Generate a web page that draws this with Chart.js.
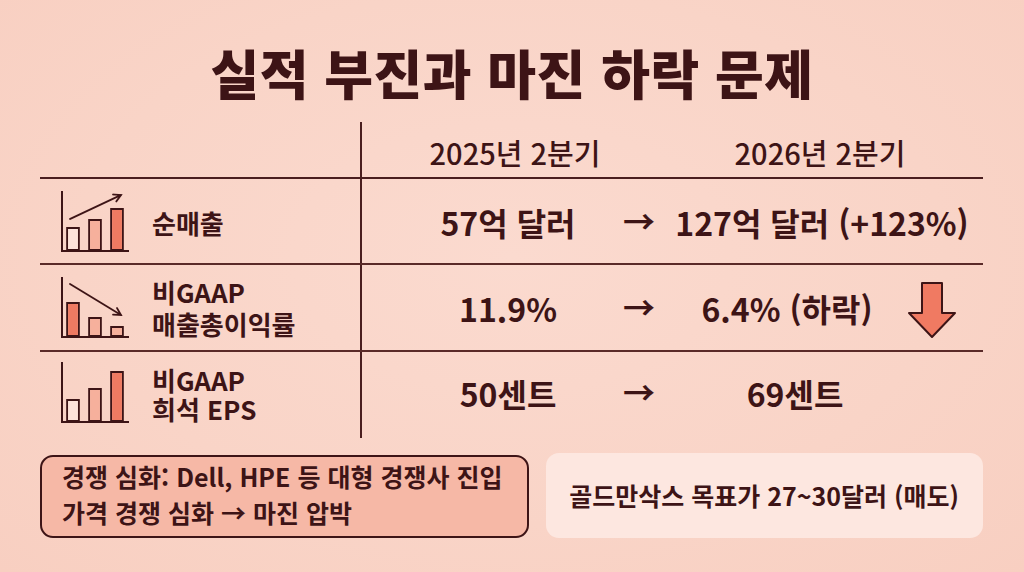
<!DOCTYPE html>
<html lang="ko">
<head>
<meta charset="utf-8">
<script src="https://cdn.jsdelivr.net/npm/chart.js@4"></script>
<style>
  html, body { margin: 0; padding: 0; }
  body {
    width: 1024px; height: 572px; overflow: hidden; position: relative;
    background: radial-gradient(ellipse at 50% 45%, #fbdacf 0%, #f9d4c7 60%, #f8cfc1 100%);
    font-family: "Noto Sans CJK KR", "Noto Sans", sans-serif;
    color: #3d1416;
  }
  .t { position: absolute; white-space: nowrap; line-height: 1; }
  .c { transform: translate(-50%, -50%); }
  .l { transform: translate(0, -50%); }
  .title { font-size: 53px; font-weight: 900; letter-spacing: 0.5px; }
  .head { font-size: 29px; font-weight: 500; }
  .val { font-size: 32px; font-weight: 700; }
  .lab { font-size: 26px; font-weight: 700; }
  .hl { position: absolute; background: #4a1e1f; }
  .box { position: absolute; box-sizing: border-box; border-radius: 13px; }
  canvas.icon { position: absolute; }
</style>
</head>
<body>
<script>
// ---------- data ----------
const chartTitle = "실적 부진과 마진 하락 문제";
const periodLabels = ["2025년 2분기", "2026년 2분기"];
const metricLabels = [["순매출"], ["비GAAP", "매출총이익률"], ["비GAAP", "희석 EPS"]];
const values2025 = ["57억 달러", "11.9%", "50센트"];
const values2026 = ["127억 달러 (+123%)", "6.4% (하락)", "69센트"];
const iconBarValues = [[24, 32, 43], [35, 20, 11], [23, 34, 51]];
const iconTrend = ["up", "down", "none"];
const noteLeft = ["경쟁 심화: Dell, HPE 등 대형 경쟁사 진입", "가격 경쟁 심화 → 마진 압박"];
const noteRight = "골드만삭스 목표가 27~30달러 (매도)";

// ---------- layout ----------
const DARK = "#3d1416";
const rowY = [222, 308, 393];
const labelY = [[223], [292, 324], [380, 409]];
const col1X = 508;
const col2X = [822, 787, 795];
const arrowX = 639;

function addText(txt, x, y, cls, align) {
  const d = document.createElement("div");
  d.className = "t " + cls + " " + (align || "c");
  d.style.left = x + "px"; d.style.top = y + "px";
  d.textContent = txt;
  document.body.appendChild(d);
  return d;
}
function addLine(x, y, w, h, color) {
  const d = document.createElement("div");
  d.className = "hl";
  d.style.left = x + "px"; d.style.top = y + "px";
  d.style.width = w + "px"; d.style.height = h + "px";
  if (color) d.style.background = color;
  document.body.appendChild(d);
}

addText(chartTitle, 512, 72, "title");
addText(periodLabels[0], 515, 152, "head");
addText(periodLabels[1], 820, 152, "head");

// table lines
addLine(360, 122, 2, 316);
addLine(40, 177, 943, 2);
addLine(40, 263, 943, 1.5, "#5a2a28");
addLine(40, 350, 943, 1.5, "#5a2a28");

// rows
metricLabels.forEach((lab, i) => {
  lab.forEach((ln, j) => addText(ln, 152, labelY[i][j], "lab", "l"));
  addText(values2025[i], col1X, rowY[i], "val");
  addText("→", arrowX, rowY[i] - 2, "val");
  addText(values2026[i], col2X[i], rowY[i], "val");
});

// down arrow marker (row 2)
const svgNS = "http://www.w3.org/2000/svg";
const sv = document.createElementNS(svgNS, "svg");
sv.setAttribute("width", "60"); sv.setAttribute("height", "70");
sv.style.position = "absolute"; sv.style.left = "903px"; sv.style.top = "276px";
const pg = document.createElementNS(svgNS, "polygon");
pg.setAttribute("points", "19,7 39,7 39,37 52,37 29,61 6,37 19,37");
pg.setAttribute("fill", "#f07a62"); pg.setAttribute("stroke", DARK);
pg.setAttribute("stroke-width", "2"); pg.setAttribute("stroke-linejoin", "round");
sv.appendChild(pg);
document.body.appendChild(sv);

// bottom boxes
const bl = document.createElement("div");
bl.className = "box";
Object.assign(bl.style, { left: "40px", top: "455px", width: "489px", height: "83px",
  background: "#f6b8a6", border: "2px solid " + DARK });
document.body.appendChild(bl);
addText(noteLeft[0], 62, 476, "lab", "l").style.fontSize = "25px";
addText(noteLeft[1], 62, 512, "lab", "l").style.fontSize = "25px";

const br = document.createElement("div");
br.className = "box";
Object.assign(br.style, { left: "546px", top: "453px", width: "437px", height: "85px",
  background: "#fde7e0" });
document.body.appendChild(br);
const rt = addText(noteRight, 764, 495, "lab");
rt.style.fontSize = "25px"; rt.style.fontWeight = "600";

// ---------- icon mini bar charts ----------
const barColors = {
  up: ["#fde3da", "#f6b09c", "#ef7a62"],
  none: ["#fde3da", "#f6b09c", "#ef7a62"],
  down: ["#ef7a62", "#f6b09c", "#f6b09c"]
};
const iconPlugin = {
  id: "iconDeco",
  afterDatasetsDraw(chart, args, opts) {
    const ctx = chart.ctx, a = chart.chartArea;
    const bars = chart.getDatasetMeta(0).data;
    ctx.save();
    ctx.strokeStyle = DARK; ctx.lineWidth = 2; ctx.lineCap = "square";
    // axes
    ctx.beginPath();
    ctx.moveTo(a.left, a.top); ctx.lineTo(a.left, a.bottom); ctx.lineTo(a.right, a.bottom);
    ctx.stroke();
    // trend arrow
    if (opts.trend !== "none") {
      let x0, y0, x1, y1;
      if (opts.trend === "up") {
        x0 = bars[0].x - 3; y0 = bars[0].y - 8;
        x1 = bars[2].x + 4; y1 = a.top + 3;
      } else {
        x0 = bars[0].x - 3; y0 = a.top + 6;
        x1 = bars[2].x + 4; y1 = bars[2].y - 11;
      }
      ctx.lineWidth = 1.8; ctx.lineCap = "round";
      ctx.beginPath(); ctx.moveTo(x0, y0); ctx.lineTo(x1, y1); ctx.stroke();
      const ang = Math.atan2(y1 - y0, x1 - x0), hl = 8;
      ctx.beginPath();
      ctx.moveTo(x1 - hl * Math.cos(ang - 0.5), y1 - hl * Math.sin(ang - 0.5));
      ctx.lineTo(x1, y1);
      ctx.lineTo(x1 - hl * Math.cos(ang + 0.5), y1 - hl * Math.sin(ang + 0.5));
      ctx.stroke();
    }
    ctx.restore();
  }
};

iconBarValues.forEach((vals, i) => {
  const cv = document.createElement("canvas");
  cv.className = "icon";
  cv.style.left = "58px"; cv.style.top = (rowY[i] - 36) + "px";
  cv.style.width = "74px"; cv.style.height = "69px";
  cv.width = 74; cv.height = 69;
  document.body.appendChild(cv);
  new Chart(cv, {
    type: "bar",
    data: {
      labels: ["a", "b", "c"],
      datasets: [{
        data: vals,
        backgroundColor: barColors[iconTrend[i]],
        borderColor: DARK,
        borderWidth: 2,
        borderSkipped: false,
        barPercentage: 0.66,
        categoryPercentage: 0.95
      }]
    },
    options: {
      responsive: false,
      animation: false,
      devicePixelRatio: 2,
      layout: { padding: { left: 4, right: 4, top: 6, bottom: 4 } },
      plugins: { legend: { display: false }, tooltip: { enabled: false },
                 iconDeco: { trend: iconTrend[i] } },
      scales: {
        x: { display: false },
        y: { display: false, min: 0, max: 59 }
      }
    },
    plugins: [iconPlugin]
  });
});
</script>
</body>
</html>
